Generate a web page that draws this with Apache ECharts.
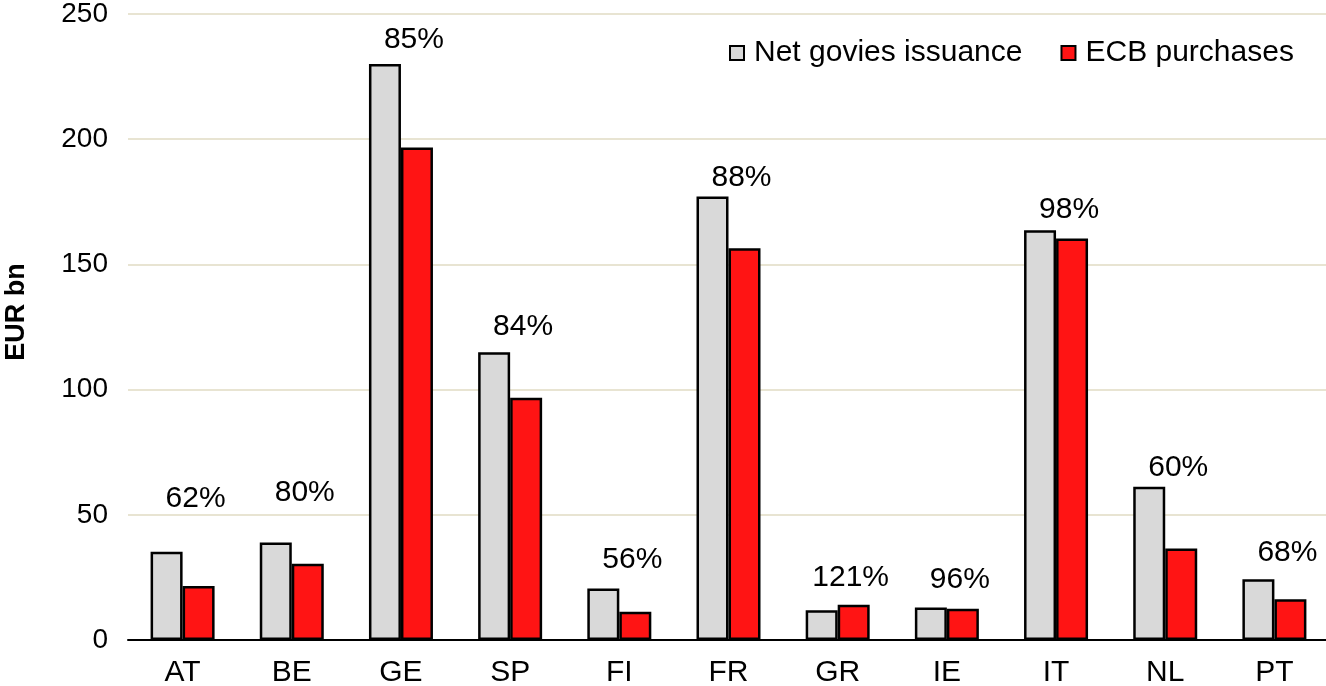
<!DOCTYPE html>
<html>
<head>
<meta charset="utf-8">
<script src="https://cdn.jsdelivr.net/npm/echarts@6/dist/echarts.min.js"></script>
<style>
html,body{margin:0;padding:0;background:#fff;}
#chart{width:1326px;height:686px;}
</style>
</head>
<body>
<div id="chart"></div>
<script>
// ---- data ----
const categories = ['AT','BE','GE','SP','FI','FR','GR','IE','IT','NL','PT'];
const netIssuance = [35.2, 38.9, 230.0, 114.9, 20.6, 177.1, 11.9, 13.0, 163.6, 61.2, 24.3];
const ecbPurchases = [21.6, 30.5, 196.7, 96.7, 11.3, 156.4, 14.1, 12.5, 160.3, 36.5, 16.3];
const shareLabels = ['62%','80%','85%','84%','56%','88%','121%','96%','98%','60%','68%'];
const shareLabelLevel = [56.3, 58.7, 239.6, 125.1, 31.9, 184.5, 24.8, 24.0, 171.7, 68.7, 34.7];
const yTicks = [0, 50, 100, 150, 200, 250];

const FONT = '"Liberation Sans", Arial, sans-serif';
const chart = echarts.init(document.getElementById('chart'), null, {renderer:'canvas'});
chart.setOption({
  animation: false,
  backgroundColor: '#ffffff',
  grid: {left: 128, top: 14, width: 1201, height: 626, containLabel: false, outerBoundsMode: 'none'},
  legend: {
    left: 724, top: 33,
    itemWidth: 14, itemHeight: 14, itemGap: 38,
    icon: 'rect',
    textStyle: {fontFamily: FONT, fontSize: 30, color: '#000', padding: [0,0,0,5]},
    data: ['Net govies issuance', 'ECB purchases']
  },
  graphic: [{
    type: 'text', x: 17, y: 312, rotation: Math.PI/2,
    style: {text: 'EUR bn', fontFamily: '"Liberation Sans Narrow", "Liberation Sans", Arial, sans-serif',
            fontWeight: 'bold', fontSize: 27, fill: '#000', align: 'center', verticalAlign: 'middle'}
  }],
  xAxis: {
    type: 'category', data: categories,
    axisLine: {show: true, lineStyle: {color: '#000', width: 2}},
    axisTick: {show: false},
    axisLabel: {fontFamily: FONT, fontSize: 30, color: '#000', margin: 18}
  },
  yAxis: {
    type: 'value', min: yTicks[0], max: yTicks[yTicks.length-1], interval: 50,
    axisLine: {show: false}, axisTick: {show: false},
    splitLine: {show: true, lineStyle: {color: '#e8e4d2', width: 2}},
    axisLabel: {fontFamily: FONT, fontSize: 28, color: '#000', margin: 20}
  },
  series: [
    {
      name: 'Net govies issuance', type: 'bar', data: netIssuance,
      barWidth: 32, barGap: '0%',
      itemStyle: {color: '#d9d9d9', borderColor: '#000', borderWidth: 2.5},
      z: 3
    },
    {
      name: 'ECB purchases', type: 'bar', data: ecbPurchases,
      barWidth: 32,
      itemStyle: {color: '#ff1414', borderColor: '#000', borderWidth: 2.5},
      z: 3
    },
    {
      name: 'share', type: 'scatter', symbolSize: 0,
      itemStyle: {opacity: 1},
      data: shareLabelLevel.map((v, i) => ({value: [categories[i], v], label: {formatter: shareLabels[i]}})),
      label: {show: true, position: 'inside', offset: [13, 0], fontFamily: FONT, fontSize: 30, color: '#000', opacity: 1},
      silent: true, z: 5
    }
  ]
});
</script>
</body>
</html>
